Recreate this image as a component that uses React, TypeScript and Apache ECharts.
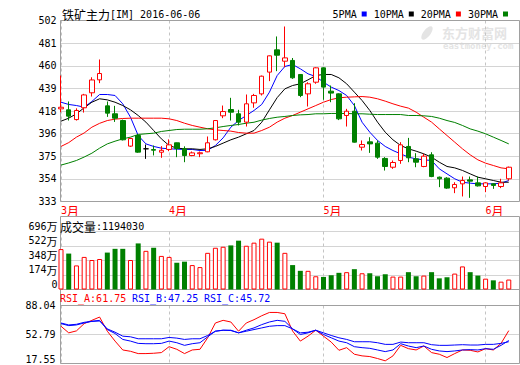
import React, { useEffect, useRef } from 'react';
import * as echarts from 'echarts';

const contractName = '铁矿主力[IM]';

const dates: string[] = [
  '2016-03-14', '2016-03-15', '2016-03-16', '2016-03-17', '2016-03-18',
  '2016-03-21', '2016-03-22', '2016-03-23', '2016-03-24', '2016-03-25',
  '2016-03-28', '2016-03-29', '2016-03-30', '2016-03-31',
  '2016-04-01', '2016-04-05', '2016-04-06', '2016-04-07', '2016-04-08',
  '2016-04-11', '2016-04-12', '2016-04-13', '2016-04-14', '2016-04-15',
  '2016-04-18', '2016-04-19', '2016-04-20', '2016-04-21', '2016-04-22',
  '2016-04-25', '2016-04-26', '2016-04-27', '2016-04-28', '2016-04-29',
  '2016-05-03', '2016-05-04', '2016-05-05', '2016-05-06',
  '2016-05-09', '2016-05-10', '2016-05-11', '2016-05-12', '2016-05-13',
  '2016-05-16', '2016-05-17', '2016-05-18', '2016-05-19', '2016-05-20',
  '2016-05-23', '2016-05-24', '2016-05-25', '2016-05-26', '2016-05-27',
  '2016-05-30', '2016-05-31',
  '2016-06-01', '2016-06-02', '2016-06-03', '2016-06-06',
];

const openPrices = [
  419.5, 418.6, 409.5, 420.5, 434.5, 446.6, 422.3, 414.9, 408.6, 384.7,
  394.6, 382.2, 381.5, 379.0, 381.6, 387.8, 382.2, 375.9, 377.6, 379.4,
  390.6, 413.0, 418.9, 414.9, 407.1, 425.1, 433.5, 453.8, 474.6, 464.0,
  464.7, 451.6, 433.5, 444.4, 457.8, 436.0, 433.5, 413.3, 417.3, 383.7,
  388.7, 387.5, 373.2, 365.0, 371.3, 384.4, 372.8, 365.7, 376.6, 355.7,
  354.8, 345.8, 349.5, 353.2, 350.4, 347.0, 349.5, 347.0, 354.2,
];
const closePrices = [
  421.0, 412.7, 418.0, 432.5, 446.5, 452.5, 415.5, 410.8, 390.6, 391.8,
  379.1, 382.2, 380.9, 380.8, 385.9, 382.5, 375.9, 378.4, 378.5, 387.8,
  408.6, 417.0, 416.4, 407.1, 424.2, 432.0, 450.0, 469.0, 469.6, 467.1,
  448.5, 432.0, 442.9, 457.8, 439.8, 434.2, 410.2, 417.3, 388.4, 386.2,
  386.8, 374.4, 365.7, 369.4, 385.9, 373.8, 369.7, 375.3, 356.3, 354.2,
  345.5, 348.9, 352.6, 352.0, 347.6, 350.4, 348.0, 350.4, 365.0,
];
const lowPrices = [
  416.4, 408.6, 408.6, 416.0, 431.0, 443.5, 412.0, 407.3, 390.0, 384.0,
  378.5, 372.8, 376.0, 373.8, 380.0, 374.4, 369.7, 375.3, 374.4, 379.0,
  390.0, 410.8, 408.6, 404.0, 403.0, 420.5, 432.0, 445.4, 454.7, 458.4,
  447.5, 430.4, 421.7, 442.9, 428.0, 425.7, 409.0, 403.0, 388.0, 380.6,
  378.4, 372.8, 361.9, 363.5, 368.2, 369.7, 365.0, 365.0, 355.7, 346.4,
  344.8, 340.8, 337.7, 336.4, 347.0, 341.7, 344.8, 345.5, 352.6,
];
const highPrices = [
  450.6, 426.4, 420.0, 433.5, 449.0, 465.6, 426.4, 422.3, 409.5, 392.5,
  396.0, 386.2, 385.3, 384.7, 391.0, 388.0, 384.5, 379.7, 379.7, 393.7,
  409.0, 422.6, 429.8, 418.6, 432.9, 433.5, 450.6, 469.3, 487.1, 496.4,
  467.0, 452.0, 444.4, 458.3, 458.3, 441.3, 434.0, 419.5, 424.8, 390.0,
  393.0, 390.0, 374.4, 371.3, 388.4, 392.4, 378.1, 377.5, 379.0, 356.3,
  355.7, 351.0, 356.3, 356.3, 356.3, 351.0, 350.0, 354.2, 365.6,
];

// volume in units of 万 (10,000)
const volumeWan = [
  485, 431, 289, 391, 354, 366, 443, 488, 488, 354,
  553, 464, 501, 403, 391, 321, 334, 293, 269, 440,
  501, 513, 529, 586, 525, 562, 610, 574, 562, 440,
  293, 224, 224, 159, 151, 171, 200, 208, 244, 195,
  195, 159, 183, 155, 155, 208, 159, 167, 208, 134,
  147, 191, 277, 208, 167, 130, 110, 94, 119.403,
];

const ma5 = [
  425.7, 423.6, 422.6, 421.1, 426.4, 432.9, 432.9, 432.0, 424.2, 411.7,
  394.6, 386.8, 384.4, 382.8, 382.2, 381.9, 381.6, 381.6, 380.6, 380.8,
  385.3, 392.4, 402.4, 408.6, 413.3, 418.0, 423.6, 435.1, 450.6, 459.1,
  460.9, 456.9, 452.2, 449.7, 444.4, 439.8, 436.6, 432.0, 422.6, 407.0,
  397.7, 390.0, 384.4, 380.6, 377.5, 374.4, 372.8, 371.9, 371.3, 363.5,
  358.8, 354.2, 351.0, 350.1, 349.5, 349.5, 349.5, 350.1, 352.6,
];
const ma10 = [
  408.0, 410.8, 414.9, 420.5, 425.7, 428.9, 427.9, 425.7, 422.6, 418.6,
  413.3, 407.1, 399.3, 391.5, 385.3, 382.8, 382.2, 382.2, 381.6, 382.2,
  384.4, 387.5, 390.6, 393.1, 396.2, 399.3, 407.0, 418.6, 430.0, 438.2,
  441.3, 442.9, 446.6, 450.6, 451.6, 451.6, 448.5, 442.9, 435.1, 427.3,
  418.0, 407.1, 397.7, 390.6, 385.3, 382.2, 380.0, 377.5, 374.4, 369.7,
  365.7, 364.4, 362.0, 358.8, 355.7, 354.2, 352.6, 351.0, 351.0,
];
const ma20 = [
  384.4, 388.0, 393.1, 397.0, 402.4, 406.0, 408.6, 409.9, 410.5, 410.8,
  410.8, 410.8, 410.8, 410.8, 410.2, 408.6, 406.1, 404.0, 402.4, 400.9,
  399.9, 399.3, 398.7, 397.4, 396.8, 396.8, 399.3, 402.4, 407.1, 410.8,
  413.3, 416.4, 419.5, 422.6, 425.7, 428.2, 429.8, 430.4, 430.7, 431.0,
  430.4, 428.9, 426.7, 424.2, 422.0, 420.2, 416.4, 411.7, 407.1, 400.8,
  394.6, 388.4, 382.2, 376.6, 371.9, 368.8, 366.6, 364.4, 363.5,
];
const ma30 = [
  367.0, 369.0, 371.3, 374.5, 378.1, 382.8, 386.8, 389.3, 391.5, 393.1,
  395.6, 396.2, 396.8, 398.4, 399.3, 400.2, 400.5, 400.5, 400.5, 400.9,
  401.8, 403.0, 404.0, 404.9, 406.1, 407.0, 409.0, 410.5, 411.7, 412.4,
  413.3, 413.9, 414.2, 414.9, 414.9, 415.2, 415.2, 415.2, 414.9, 414.9,
  414.5, 414.2, 414.2, 414.2, 414.2, 413.3, 413.3, 413.0, 412.4, 410.8,
  408.6, 406.8, 404.0, 400.8, 398.7, 396.2, 393.1, 390.0, 386.8,
];

const rsiA = [
  62.8, 54.8, 57.2, 66.0, 70.0, 74.0, 56.8, 44.8, 34.0, 32.4,
  29.6, 29.6, 30.0, 30.8, 38.0, 34.8, 29.6, 34.0, 34.8, 48.8,
  66.8, 70.0, 68.0, 56.8, 66.8, 70.8, 75.6, 79.6, 79.6, 78.0,
  57.0, 44.8, 50.8, 58.0, 50.8, 43.6, 33.6, 36.8, 28.8, 26.8,
  26.0, 23.6, 20.8, 26.8, 39.6, 35.6, 34.0, 38.8, 30.8, 28.8,
  24.8, 29.6, 34.0, 33.6, 31.6, 35.6, 34.0, 42.0, 57.5,
];
const rsiB = [
  66.0, 63.6, 64.4, 66.8, 68.8, 70.0, 58.8, 54.0, 46.8, 44.8,
  42.0, 41.6, 41.6, 42.0, 44.8, 42.8, 39.6, 41.6, 42.8, 50.0,
  56.8, 58.0, 58.0, 54.8, 58.0, 60.8, 64.8, 68.0, 70.0, 68.8,
  59.6, 52.8, 54.8, 58.0, 52.8, 48.8, 44.8, 42.8, 38.0, 36.8,
  36.0, 34.0, 32.0, 34.0, 41.6, 38.8, 36.8, 38.8, 34.8, 32.8,
  32.0, 32.8, 34.0, 34.4, 34.0, 35.6, 34.8, 39.6, 45.5,
];
const rsiC = [
  66.8, 64.4, 65.2, 67.6, 68.8, 69.2, 59.6, 55.6, 50.8, 50.0,
  47.6, 47.6, 47.6, 47.6, 49.2, 48.4, 46.8, 47.6, 47.6, 51.6,
  56.8, 58.0, 57.6, 54.8, 56.8, 58.8, 60.8, 62.8, 63.6, 63.6,
  59.6, 54.8, 55.6, 58.0, 54.8, 51.6, 48.8, 46.8, 44.0, 44.0,
  44.0, 42.8, 40.8, 40.8, 43.6, 42.8, 42.8, 42.8, 40.4, 39.6,
  39.6, 40.0, 40.4, 40.0, 40.0, 40.8, 40.8, 42.0, 44.0,
];
const rsiNames = ['RSI_A', 'RSI_B', 'RSI_C'];
const rsiLatest = ['61.75', '47.25', '45.72'];

const maNames = ['5PMA', '10PMA', '20PMA', '30PMA'];
const priceTicks = [333, 354.125, 375.25, 396.375, 417.5, 438.625, 459.75, 480.875, 502];
const volumeTicks = [0, 174, 348, 522, 696];
const rsiTicks = [17.55, 52.79, 88.04];

const MONO = "'DejaVu Sans Mono', 'Liberation Mono', monospace";
const CJK = "'Noto Sans CJK SC', sans-serif";
const UP = '#ff0000';
const DOWN = '#008000';
const BLUE = '#0000ff';
const BORDER = '#a0a0a0';
const GRIDLINE = '#d4d4d4';
const DASH = '#c4c4c4';
const WATERMARK = '#e4e4e4';

function buildOption(): any {
  const N = dates.length;
  const xMin = -0.065;
  const xMax = N - 1 + 1.39;
  const monthStarts = dates
    .map((d, i) => (i === 0 || d.slice(5, 7) !== dates[i - 1].slice(5, 7) ? i : -1))
    .filter((i) => i >= 0);
  const isUp = (i: number) => closePrices[i] >= openPrices[i];

  const xAxisOf = (gridIndex: number, showLabel: boolean) => ({
    type: 'value',
    gridIndex,
    min: xMin,
    max: xMax,
    axisLine: { show: false },
    axisTick: { show: false, customValues: monthStarts },
    splitLine: { show: true, lineStyle: { color: DASH, type: [3, 3], width: 1 } },
    axisLabel: showLabel
      ? {
          show: true,
          customValues: monthStarts,
          margin: 3,
          align: 'left',
          color: UP,
          fontFamily: MONO,
          fontSize: 10,
          lineHeight: 11,
          formatter: (v: number) => `{n|${parseInt(dates[Math.round(v)].slice(5, 7), 10)}}{c|月}`,
          rich: {
            n: { fontFamily: MONO, fontSize: 10, lineHeight: 11, color: UP },
            c: { fontFamily: CJK, fontSize: 12, lineHeight: 11, color: UP },
          },
        }
      : { show: false },
  });

  const line = (name: string, data: number[], color: string, axis: number) => ({
    type: 'line',
    name,
    xAxisIndex: axis,
    yAxisIndex: axis,
    data: data.map((v, i) => [i, v]),
    symbol: 'none',
    showSymbol: false,
    silent: true,
    lineStyle: { color, width: 1 },
    itemStyle: { color },
    z: 2,
  });

  const candleData = dates.map((_, i) => {
    const item: any = { value: [i, openPrices[i], closePrices[i], lowPrices[i], highPrices[i]] };
    if (openPrices[i] === closePrices[i]) {
      item.itemStyle = { color: '#000', color0: '#000', borderColor: '#000', borderColor0: '#000', borderColorDoji: '#000' };
    }
    return item;
  });

  const volData = volumeWan.map((v, i) => ({
    value: [i, v],
    itemStyle: isUp(i)
      ? { color: '#ffffff', borderColor: UP, borderWidth: 1 }
      : { color: DOWN, borderColor: DOWN, borderWidth: 0 },
  }));

  const frame = (x: number, y: number, w: number, h: number) => ({
    type: 'rect',
    z: 1,
    silent: true,
    shape: { x, y, width: w, height: h },
    style: { fill: 'none', stroke: BORDER, lineWidth: 1 },
  });
  const hline = (y: number) => ({
    type: 'line',
    z: 1,
    silent: true,
    shape: { x1: 60.5, y1: y, x2: 519.5, y2: y },
    style: { stroke: BORDER, lineWidth: 1 },
  });

  const volTitle = Math.round(volumeWan[N - 1] * 10000);
  const rsiColors = [UP, BLUE, BLUE];

  return {
    animation: false,
    backgroundColor: '#ffffff',
    textStyle: { fontFamily: MONO },
    grid: [
      { left: 60.5, top: 20.5, width: 459, height: 181 },
      { left: 60.5, top: 231.5, width: 459, height: 58 },
      { left: 60.5, top: 305.5, width: 459, height: 58 },
    ],
    legend: {
      data: maNames,
      right: 12,
      top: 9,
      padding: 0,
      align: 'right',
      icon: 'rect',
      itemWidth: 5,
      itemHeight: 5,
      itemGap: 7,
      textStyle: { fontFamily: MONO, fontSize: 10, lineHeight: 10, color: '#000' },
      selectedMode: false,
    },
    xAxis: [xAxisOf(0, true), xAxisOf(1, false), xAxisOf(2, false)],
    yAxis: [
      {
        type: 'value',
        gridIndex: 0,
        min: priceTicks[0],
        max: priceTicks[priceTicks.length - 1],
        axisLine: { show: false },
        axisTick: { show: false, customValues: priceTicks },
        splitLine: { show: true, lineStyle: { color: GRIDLINE, width: 1 } },
        axisLabel: {
          customValues: priceTicks,
          formatter: (v: number) => String(Math.round(v)),
          fontFamily: MONO,
          fontSize: 10,
          color: '#000',
          margin: 4,
        },
      },
      {
        type: 'value',
        gridIndex: 1,
        min: volumeTicks[0],
        max: volumeTicks[volumeTicks.length - 1],
        interval: volumeTicks[1] - volumeTicks[0],
        axisLine: { show: false },
        axisTick: { show: false },
        splitLine: { show: true, lineStyle: { color: GRIDLINE, width: 1 } },
        axisLabel: {
          formatter: (v: number) => (v === 0 ? '0' : `{n|${v}}{c|万}`),
          fontFamily: MONO,
          fontSize: 10,
          lineHeight: 11,
          color: '#000',
          margin: 3,
          verticalAlign: 'bottom',
          rich: {
            n: { fontFamily: MONO, fontSize: 10, lineHeight: 11, color: '#000' },
            c: { fontFamily: CJK, fontSize: 11, lineHeight: 11, color: '#000' },
          },
        },
      },
      {
        type: 'value',
        gridIndex: 2,
        min: rsiTicks[0],
        max: rsiTicks[rsiTicks.length - 1],
        axisLine: { show: false },
        axisTick: { show: false, customValues: rsiTicks },
        splitLine: { show: true, lineStyle: { color: GRIDLINE, width: 1 } },
        axisLabel: {
          customValues: rsiTicks,
          formatter: (v: number) => (v === rsiTicks[0] ? `{lo|${v.toFixed(2)}}` : v.toFixed(2)),
          fontFamily: MONO,
          fontSize: 10,
          color: '#000',
          margin: 5,
          rich: { lo: { fontFamily: MONO, fontSize: 10, color: '#000', padding: [0, 0, 9, 0] } },
        },
      },
    ],
    series: [
      line(maNames[0], ma5, BLUE, 0),
      line(maNames[1], ma10, '#000000', 0),
      line(maNames[2], ma20, UP, 0),
      line(maNames[3], ma30, DOWN, 0),
      {
        type: 'candlestick',
        xAxisIndex: 0,
        yAxisIndex: 0,
        data: candleData,
        barWidth: 5,
        clip: false,
        silent: true,
        z: 3,
        itemStyle: {
          color: '#ffffff',
          color0: DOWN,
          borderColor: UP,
          borderColor0: DOWN,
          borderColorDoji: '#000',
          borderWidth: 1,
        },
      },
      {
        type: 'bar',
        xAxisIndex: 1,
        yAxisIndex: 1,
        data: volData,
        barWidth: 5,
        clip: false,
        silent: true,
        z: 3,
      },
      line(rsiNames[0], rsiA, rsiColors[0], 2),
      line(rsiNames[1], rsiB, rsiColors[1], 2),
      line(rsiNames[2], rsiC, rsiColors[2], 2),
    ],
    graphic: [
      {
        type: 'text',
        z: 0,
        silent: true,
        x: 442,
        y: 32,
        style: { text: '东方财富网', fill: WATERMARK, fontFamily: CJK, fontSize: 13, lineHeight: 13, fontWeight: 'bold', verticalAlign: 'middle' },
      },
      {
        type: 'text',
        z: 0,
        silent: true,
        x: 443,
        y: 46,
        style: { text: 'eastmoney.com', fill: WATERMARK, fontFamily: MONO, fontSize: 9, lineHeight: 9, fontWeight: 'bold', verticalAlign: 'middle' },
      },
      {
        type: 'ellipse',
        z: 0,
        silent: true,
        x: 427,
        y: 33,
        rotation: 0.9,
        shape: { cx: 0, cy: 0, rx: 8, ry: 3.5 },
        style: { fill: WATERMARK },
      },
      frame(60.5, 20.5, 459, 181),
      frame(60.5, 216.5, 459, 147),
      hline(289.5),
      hline(305.5),
      {
        type: 'text',
        z: 5,
        silent: true,
        x: 62,
        y: 14,
        style: {
          text: `{c|${contractName.slice(0, 4)}}{a|${contractName.slice(4)} ${dates[N - 1]}}`,
          verticalAlign: 'middle',
          rich: {
            c: { fontFamily: CJK, fontSize: 12, fill: '#000' },
            a: { fontFamily: MONO, fontSize: 10, fill: '#000' },
          },
        },
      },
      {
        type: 'text',
        z: 5,
        silent: true,
        x: 60,
        y: 226,
        style: {
          text: `{c|成交量}{a|:${volTitle}}`,
          verticalAlign: 'middle',
          rich: {
            c: { fontFamily: CJK, fontSize: 12, lineHeight: 12, fill: '#000' },
            a: { fontFamily: MONO, fontSize: 10, lineHeight: 12, fill: '#000' },
          },
        },
      },
      ...rsiNames.map((name, k) => ({
        type: 'text',
        z: 5,
        silent: true,
        x: 60 + k * 72,
        y: 298,
        style: {
          text: `${name}:${rsiLatest[k]}`,
          fill: rsiColors[k],
          fontFamily: MONO,
          fontSize: 10,
          verticalAlign: 'middle',
        },
      })),
    ],
  };
}

export default function App() {
  const ref = useRef<HTMLDivElement>(null);
  useEffect(() => {
    if (!ref.current) return;
    const chart = echarts.init(ref.current, null, { renderer: 'svg' });
    chart.setOption(buildOption());
    return () => {
      chart.dispose();
    };
  }, []);
  return (
    <div
      ref={ref}
      style={{ position: 'fixed', left: 0, top: 0, width: 520, height: 365, background: '#fff' }}
    />
  );
}
